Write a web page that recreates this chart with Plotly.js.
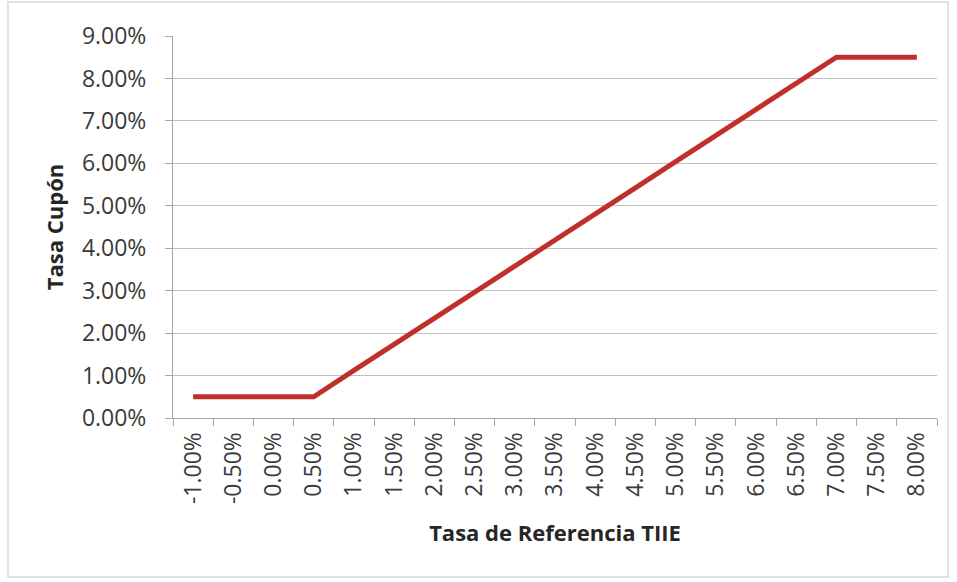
<!DOCTYPE html>
<html>
<head>
<meta charset="utf-8">
<script src="https://cdn.plot.ly/plotly-3.0.1.min.js"></script>
<style>html,body{margin:0;padding:0;background:#fff;}#chart{width:957px;height:582px;}</style>
</head>
<body>
<div id="chart"></div>
<script>
const categories = ["-1.00%","-0.50%","0.00%","0.50%","1.00%","1.50%","2.00%","2.50%","3.00%","3.50%","4.00%","4.50%","5.00%","5.50%","6.00%","6.50%","7.00%","7.50%","8.00%"];
const couponRate = [0.005,0.005,0.005,0.005,0.0112,0.0173,0.0235,0.0296,0.0358,0.0419,0.0481,0.0542,0.0604,0.0665,0.0727,0.0788,0.085,0.085,0.085];
const yTickVals = [0,0.01,0.02,0.03,0.04,0.05,0.06,0.07,0.08,0.09];
const yTickText = ["0.00%","1.00%","2.00%","3.00%","4.00%","5.00%","6.00%","7.00%","8.00%","9.00%"];

const font = "'Open Sans', sans-serif";
const textColor = "#3a3a3a";

const trace = {
  type: "scatter",
  mode: "lines",
  x: categories,
  y: couponRate,
  line: {color: "#C0302B", width: 5},
  hoverinfo: "x+y"
};

const layout = {
  width: 957,
  height: 582,
  margin: {l: 173, r: 20, t: 36, b: 164},
  paper_bgcolor: "#ffffff",
  plot_bgcolor: "#ffffff",
  showlegend: false,
  font: {family: font, color: textColor, size: 23},
  xaxis: {
    type: "category",
    range: [-0.5, 18.5],
    tickson: "boundaries",
    ticks: "outside",
    ticklen: 7,
    tickcolor: "#A6A6A6",
    ticklabelstandoff: 4,
    showline: true,
    linecolor: "#A6A6A6",
    linewidth: 1,
    showgrid: false,
    zeroline: false,
    tickangle: -90,
    tickfont: {family: font, size: 23, color: textColor},
    title: {text: "Tasa de Referencia TIIE", font: {family: font, size: 22, color: "#262626", weight: "bold"}, standoff: 22},
    fixedrange: true
  },
  yaxis: {
    range: [0, 0.09],
    tickvals: yTickVals,
    ticktext: yTickText,
    ticks: "outside",
    ticklen: 7,
    tickcolor: "#A6A6A6",
    ticklabelstandoff: 14,
    showline: true,
    linecolor: "#A6A6A6",
    linewidth: 1,
    showgrid: true,
    gridcolor: "#BFBFBF",
    gridwidth: 1,
    zeroline: false,
    tickfont: {family: font, size: 23, color: textColor},
    title: {text: "Tasa Cupón", font: {family: font, size: 22, color: "#262626", weight: "bold"}, standoff: 12},
    fixedrange: true
  },
  shapes: [{
    type: "rect", xref: "paper", yref: "paper",
    x0: -0.216, x1: 1.0144, y0: -0.416, y1: 1.089,
    line: {color: "#D9D9D9", width: 1.5}, fillcolor: "rgba(0,0,0,0)", layer: "below"
  }]
};

Plotly.newPlot("chart", [trace], layout, {displayModeBar: false, staticPlot: true});
</script>
</body>
</html>
